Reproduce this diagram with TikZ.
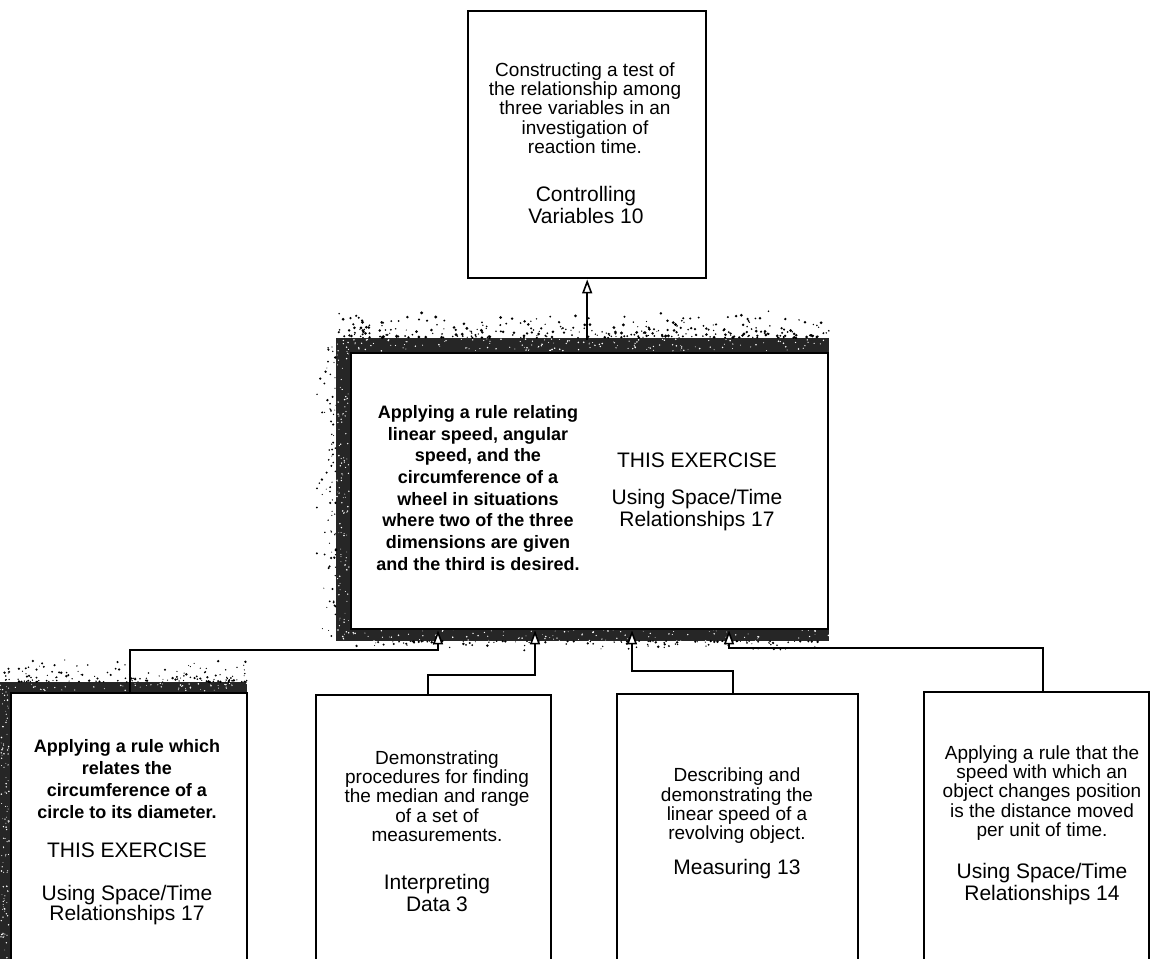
\documentclass[tikz,border=0pt]{standalone}
\usepackage{fontspec}
\setmainfont{Liberation Sans}
\usetikzlibrary{arrows.meta}
\begin{document}
\begin{tikzpicture}[x=1pt,y=-1pt,
  box/.style={draw=black, line width=2.4pt, fill=white, anchor=north west, inner sep=0pt},
  desc/.style={align=center, inner sep=0pt, font=\fontsize{19}{19.3}\selectfont},
  bdesc/.style={align=center, inner sep=0pt, font=\bfseries\fontsize{18}{21.7}\selectfont},
  lab/.style={align=center, inner sep=0pt, font=\fontsize{21}{21.5}\selectfont},
  conn/.style={line width=2.4pt, -{Triangle[width=10pt,length=14pt,fill=white,line width=1.6pt]}, line join=miter},
  stip/.style={fill=black!85},
  speck/.style={fill=black}]
\useasboundingbox (0,0) rectangle (1152,959);
\clip (0,0) rectangle (1152,959);
% stippled bands
\fill[stip] (336,338) rectangle (829,641);
\fill[stip] (0,682) rectangle (247,970);
\pgfmathsetseed{42}
\foreach \i in {1,...,320}{\fill[speck] ({336+493*rnd},{338-30*rnd*rnd}) circle ({0.6+1.0*rnd});}
\foreach \i in {1,...,90}{\fill[speck] ({336-22*rnd*rnd},{345+295*rnd}) circle ({0.5+0.8*rnd});}
\foreach \i in {1,...,120}{\fill[speck] ({350+470*rnd},{641+10*rnd*rnd}) circle ({0.5+0.9*rnd});}
\foreach \i in {1,...,150}{\fill[speck] ({247*rnd},{682-25*rnd*rnd}) circle ({0.5+0.9*rnd});}
\foreach \i in {1,...,150}{\fill[white] ({336+493*rnd},{339+12*rnd}) circle ({0.4+0.5*rnd});}
\foreach \i in {1,...,110}{\fill[white] ({337+12*rnd},{345+295*rnd}) circle ({0.4+0.5*rnd});}
\foreach \i in {1,...,110}{\fill[white] ({336+493*rnd},{629+12*rnd}) circle ({0.4+0.5*rnd});}
\foreach \i in {1,...,110}{\fill[white] ({1+8*rnd},{690+270*rnd}) circle ({0.4+0.5*rnd});}
\foreach \i in {1,...,60}{\fill[white] ({247*rnd},{683+8*rnd}) circle ({0.4+0.5*rnd});}
% boxes
\node[box, minimum width=238pt, minimum height=267pt] (top) at (467,10) {};
\node[box, minimum width=477pt, minimum height=276pt] (mid) at (350,352) {};
\node[box, minimum width=236pt, minimum height=300pt] (b1) at (10,692) {};
\node[box, minimum width=235pt, minimum height=300pt] (b2) at (315,694) {};
\node[box, minimum width=241pt, minimum height=300pt] (b3) at (616,693) {};
\node[box, minimum width=225pt, minimum height=300pt] (b4) at (923,691) {};
% connectors
\draw[conn] ([yshift=12pt]mid.north -| top.south) -- (top.south);
\draw[conn] ([xshift=120pt]b1.north west) -- ++(0,-42) -| ([xshift=88pt]mid.south west);
\draw[conn] ([xshift=113pt]b2.north west) -- ++(0,-19) -| ([xshift=185pt]mid.south west);
\draw[conn] ([xshift=117pt]b3.north west) -- ++(0,-22) -| ([xshift=282pt]mid.south west);
\draw[conn] ([xshift=120pt]b4.north west) -- ++(0,-43) -| ([xshift=379pt]mid.south west);
% texts
\node[desc] (tdesc) at (585,108) {Constructing a test of\\the relationship among\\three variables in an\\investigation of\\reaction time.};
\node[lab] (tlab) at (586,205) {Controlling\\Variables 10};
\node[bdesc] (mdesc) at (478,488) {Applying a rule relating\\linear speed, angular\\speed, and the\\circumference of a\\wheel in situations\\where two of the three\\dimensions are given\\and the third is desired.};
\node[lab] (mthis) at (697,460) {THIS EXERCISE};
\node[lab] (mlab) at (697,510) {Using Space/Time\\Relationships 17};
\node[bdesc, font=\bfseries\fontsize{18}{22}\selectfont] (b1desc) at (127,779) {Applying a rule which\\relates the\\circumference of a\\circle to its diameter.};
\node[lab] (b1this) at (127,850) {THIS EXERCISE};
\node[lab, font=\fontsize{21}{19}\selectfont] (b1lab) at (127,905) {Using Space/Time\\Relationships 17};
\node[desc] (b2desc) at (437,796) {Demonstrating\\procedures for finding\\the median and range\\of a set of\\measurements.};
\node[lab] (b2lab) at (437,893) {Interpreting\\Data 3};
\node[desc] (b3desc) at (737,806) {Describing and\\demonstrating the\\linear speed of a\\revolving object.};
\node[lab] (b3lab) at (737,869) {Measuring 13};
\node[desc] (b4desc) at (1042,793) {Applying a rule that the\\speed with which an\\object changes position\\is the distance moved\\per unit of time.};
\node[lab] (b4lab) at (1042,884) {Using Space/Time\\Relationships 14};
\end{tikzpicture}
\end{document}
